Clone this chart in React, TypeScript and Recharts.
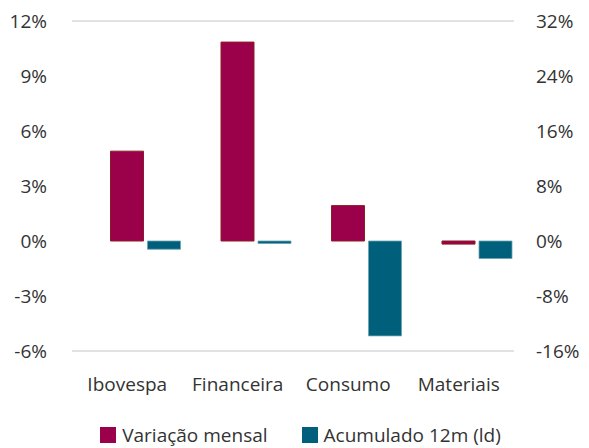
import { Bar, BarChart, CartesianGrid, Legend, XAxis, YAxis } from 'recharts';

const categories = ['Ibovespa', 'Financeira', 'Consumo', 'Materiais'];
const variacaoMensal = [4.9, 10.85, 1.93, -0.17];
const acumulado12m = [-1.2, -0.35, -13.8, -2.55];
const leftTicks = [-6, -3, 0, 3, 6, 9, 12];
const rightTicks = [-16, -8, 0, 8, 16, 24, 32];
const seriesOrder = ['mensal', 'acumulado'];

const data = categories.map((name, i) => ({
  name,
  mensal: variacaoMensal[i],
  acumulado: acumulado12m[i]
}));

const FONT = '"Open Sans", sans-serif';
const TEXT = '#333333';

function LegendContent({ payload }: any) {
  const items = [...(payload || [])].sort(
    (a: any, b: any) => seriesOrder.indexOf(a.dataKey) - seriesOrder.indexOf(b.dataKey)
  );
  return (
    <div style={{ display: 'flex', justifyContent: 'center', gap: 34, paddingLeft: 12, fontFamily: FONT, fontSize: 19, color: TEXT }}>
      {items.map((item: any) => (
        <div key={item.value} style={{ display: 'flex', alignItems: 'center', lineHeight: '26px' }}>
          <span style={{ width: 16, height: 16, background: item.color, marginRight: 6, display: 'inline-block' }} />
          <span>{item.value}</span>
        </div>
      ))}
    </div>
  );
}

export default function App() {
  return (
    <div style={{ position: 'absolute', left: 0, top: 0, width: 589, height: 448, background: '#fff' }}>
      <BarChart width={589} height={448} data={data} margin={{ top: 21, right: 0, bottom: 0, left: 0 }} barGap={4} barSize={33}>
        <CartesianGrid vertical={false} stroke="#d9d9d9" strokeWidth={1.5} />
        <XAxis
          dataKey="name"
          axisLine={false}
          tickLine={false}
          height={71}
          tickMargin={21}
          tick={{ fill: TEXT, fontSize: 19, fontFamily: FONT }}
        />
        <XAxis xAxisId="bars" dataKey="name" hide padding={{ left: 18.5, right: -18.5 }} />
        <YAxis
          yAxisId="l"
          orientation="left"
          width={72}
          domain={[-6, 12]}
          ticks={leftTicks}
          axisLine={false}
          tickLine={false}
          tickMargin={19}
          tickFormatter={(v: number) => `${v}%`}
          tick={{ fill: TEXT, fontSize: 19, fontFamily: FONT }}
        />
        <YAxis
          yAxisId="r"
          orientation="right"
          width={75}
          domain={[-16, 32]}
          ticks={rightTicks}
          axisLine={false}
          tickLine={false}
          tickMargin={16}
          tickFormatter={(v: number) => `${v}%`}
          tick={{ fill: TEXT, fontSize: 19, fontFamily: FONT, textAnchor: 'start' }}
        />
        <Legend verticalAlign="bottom" content={<LegendContent />} wrapperStyle={{ height: 26 }} />
        <Bar
          dataKey="mensal"
          name="Variação mensal"
          xAxisId="bars"
          yAxisId="l"
          fill="#9b004a"
          stroke="#8c1c24"
          strokeWidth={1}
          isAnimationActive={false}
        />
        <Bar
          dataKey="acumulado"
          name="Acumulado 12m (ld)"
          xAxisId="bars"
          yAxisId="r"
          fill="#005f7a"
          stroke="#6aa3b5"
          strokeWidth={0.8}
          isAnimationActive={false}
        />
      </BarChart>
    </div>
  );
}
